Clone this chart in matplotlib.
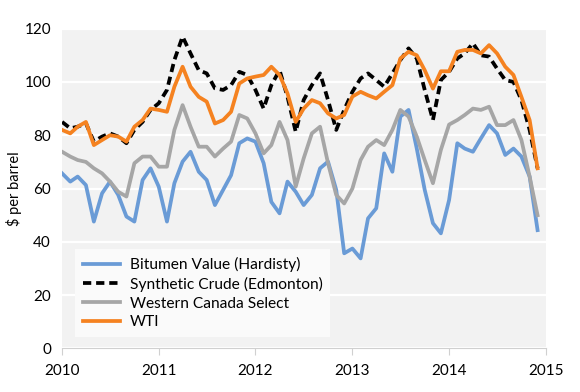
import numpy as np
import pandas as pd
import matplotlib
matplotlib.use('Agg')
import matplotlib.pyplot as plt
import matplotlib.dates as mdates

plt.rcParams['font.family'] = ['Lato', 'DejaVu Sans']

# monthly prices, $ per barrel, Jan 2010 - Dec 2014
months = pd.date_range('2010-01-01', periods=60, freq='MS')

bitumen = [65.7, 62.6, 64.5, 61.3, 47.6, 58.2, 62.6, 57.6, 49.5, 47.6, 63.2, 67.6,
           60.7, 47.6, 62.0, 70.1, 73.8, 66.3, 63.2, 53.8, 59.5, 65.0, 77.0, 78.8,
           77.6, 69.5, 55.0, 50.7, 62.6, 58.8, 53.8, 57.6, 67.6, 70.1, 59.5, 35.7,
           37.5, 33.8, 48.8, 52.6, 73.2, 66.3, 87.0, 89.5, 75.0, 59.5, 47.0, 43.2,
           55.7, 77.0, 75.0, 73.8, 78.8, 83.8, 80.7, 72.6, 75.0, 72.0, 64.5, 44.4]

synthetic = [85.0, 82.6, 83.2, 84.5, 77.6, 79.5, 80.7, 79.5, 77.0, 82.0, 85.0, 89.5,
             92.0, 97.0, 108.2, 117.0, 110.7, 104.4, 103.2, 97.6, 97.0, 98.8, 103.8, 102.6,
             97.0, 90.0, 98.8, 104.4, 94.4, 81.3, 93.2, 98.8, 103.2, 93.2, 82.0, 89.5,
             96.3, 101.3, 103.2, 100.7, 98.2, 103.2, 108.2, 112.6, 108.8, 97.0, 85.7, 100.7,
             103.8, 108.8, 110.7, 114.5, 110.0, 109.5, 105.0, 100.7, 100.0, 93.2, 82.0, 67.6]

wcs = [73.8, 72.0, 70.7, 70.0, 67.6, 65.7, 62.6, 58.8, 57.0, 69.5, 72.0, 72.0,
       68.2, 68.2, 82.0, 91.3, 83.2, 75.7, 75.7, 72.0, 75.0, 77.6, 87.6, 86.3,
       80.7, 73.2, 76.3, 85.0, 78.2, 60.7, 71.3, 80.7, 83.2, 69.5, 57.6, 54.4,
       60.0, 70.7, 75.7, 78.2, 76.3, 82.0, 89.5, 87.0, 79.5, 70.7, 62.0, 74.5,
       84.0, 85.7, 87.6, 90.0, 89.5, 90.7, 83.8, 83.8, 85.7, 78.2, 64.5, 50.0]

wti = [82.0, 80.7, 83.2, 85.0, 76.3, 78.2, 80.0, 79.5, 77.6, 83.2, 85.7, 90.0,
       89.5, 88.8, 98.2, 105.7, 98.2, 94.4, 92.6, 84.4, 85.7, 88.8, 99.4, 101.3,
       102.0, 102.6, 105.7, 102.6, 95.7, 85.0, 90.0, 93.2, 92.0, 88.2, 86.3, 87.6,
       94.5, 96.3, 95.0, 93.8, 96.3, 98.8, 108.8, 111.3, 110.0, 104.4, 97.5, 104.0,
       104.0, 111.3, 112.0, 112.0, 110.7, 113.8, 110.7, 105.7, 102.6, 94.4, 85.7, 67.6]

fig = plt.figure(figsize=(5.8, 3.92), dpi=100)
ax = fig.add_axes([0.107, 0.111, 0.834, 0.816])
ax.set_facecolor('#f2f2f2')

lw = 2.7
ax.plot(months, bitumen, color='#6a9bd6', lw=lw, label='Bitumen Value (Hardisty)')
ax.plot(months, synthetic, color='black', lw=lw, ls=(0, (2.2, 1.3)), label='Synthetic Crude (Edmonton)')
ax.plot(months, wcs, color='#a6a6a6', lw=lw, label='Western Canada Select')
ax.plot(months, wti, color='#f58220', lw=lw, label='WTI')

ax.set_ylim(0, 120)
ax.set_yticks(np.arange(0, 121, 20))
ax.set_xlim(pd.Timestamp('2010-01-01'), pd.Timestamp('2015-01-01'))
ax.xaxis.set_major_locator(mdates.YearLocator())
ax.xaxis.set_major_formatter(mdates.DateFormatter('%Y'))

ax.grid(axis='y', color='white', lw=1.6)
ax.set_axisbelow(True)
for s in ['top', 'right', 'left']:
    ax.spines[s].set_visible(False)
ax.spines['bottom'].set_color('#d0d0d0')
ax.tick_params(axis='y', length=0, labelsize=11, pad=8)
ax.tick_params(axis='x', length=5, color='#d0d0d0', labelsize=11, pad=6)
ax.set_ylabel('$ per barrel', fontsize=10.5)
ax.yaxis.set_label_coords(-0.083, 0.5)

leg = ax.legend(loc='lower left', bbox_to_anchor=(0.027, 0.036), borderaxespad=0,
                frameon=True, fancybox=False, fontsize=11.2, handlelength=2.4,
                handletextpad=0.6, labelspacing=0.3, borderpad=0.5)
leg.get_frame().set_facecolor('#fafafa')
leg.get_frame().set_edgecolor('none')
leg.get_frame().set_alpha(1)

fig.savefig('out.png', dpi=100)
